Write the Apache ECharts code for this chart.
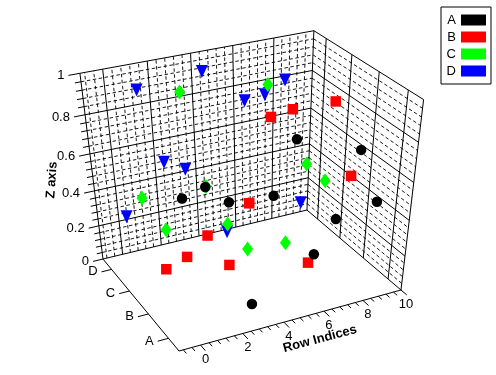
<!DOCTYPE html>
<html>
<head>
<meta charset="utf-8">
<style>
  html, body { margin: 0; padding: 0; background: #fff; }
  #chart { width: 496px; height: 375px; }
</style>
<script src="https://cdn.jsdelivr.net/npm/echarts@6/dist/echarts.min.js"></script>
</head>
<body>
<div id="chart"></div>
<script>
// values, one z per row index
const rowIndices = [0, 1, 2, 3, 4, 5, 6, 7, 8, 9];
const categories = ["A", "B", "C", "D"];
const valuesA = [0.72, 0.75, 0.65, 0.07, 0.63, 0.88, 0.265, 0.43, 0.76, 0.47];
const valuesB = [0.23, 0.27, 0.36, 0.165, 0.48, 0.89, 0.905, 0.06, 0.9, 0.5];
const valuesC = [0.5, 0.3, 0.98, 0.485, 0.25, 0.075, 0.935, 0.056, 0.484, 0.367];
const valuesD = [0.284, 0.923, 0.535, 0.473, 0.952, 0.059, 0.768, 0.778, 0.832, 0.128];
const rowTickLabels = [0, 2, 4, 6, 8, 10];
const zTickLabels = [0, 0.2, 0.4, 0.6, 0.8, 1];

const ROW_MIN = -1;
const ROW_MAX = 10;
const ROW_STEP = 0.4;
const Z_STEP = 0.04;

// perspective view of the unit box, fitted to the box corners
function project(row, cat, z) {
  const x = (row - ROW_MIN) / (ROW_MAX - ROW_MIN);
  const y = cat / categories.length;
  const d = 1 + 0.0748 * x + 0.1227 * y - 0.146 * z;
  return [
    (178 + 251.9 * x - 63.5 * y - 37.4 * z) / d + 1,
    (351 - 39.3 * x - 60.2 * y - 219.2 * z) / d,
  ];
}

const SOLID = 0;
const DASHED = 1;
const CAT_MAX = categories.length;
const segments = [];
const labels = [];

function addSegment(a, b, kind) {
  segments.push([a[0], a[1], b[0], b[1], kind]);
}

// left and right walls: z lines
for (let i = 0; i <= 25; i++) {
  const z = i * Z_STEP;
  const kind = i % 5 === 0 ? SOLID : DASHED;
  const back = project(ROW_MAX, CAT_MAX, z);
  addSegment(project(ROW_MIN, CAT_MAX, z), back, kind);
  addSegment(back, project(ROW_MAX, 0, z), kind);
  // z axis tick
  const len = i % 5 === 0 ? 0.5 : 0.27;
  addSegment(project(ROW_MIN, CAT_MAX, z), project(ROW_MIN - len, CAT_MAX, z), SOLID);
}

// left wall: row lines, plus the ticks under the front edge
for (let i = 0; i <= 27; i++) {
  const row = ROW_MIN + 0.2 + i * ROW_STEP;
  const major = i % 5 === 2;
  addSegment(project(row, CAT_MAX, 0), project(row, CAT_MAX, 1), major ? SOLID : DASHED);
  addSegment(project(row, 0, 0), project(row, major ? -0.22 : -0.14, 0), SOLID);
}

// right wall: one line per category, and the category ticks
categories.forEach((name, i) => {
  addSegment(project(ROW_MAX, i + 0.5, 0), project(ROW_MAX, i + 0.5, 1), SOLID);
  const end = project(ROW_MIN - 0.5, i + 0.5, 0);
  addSegment(project(ROW_MIN, i + 0.5, 0), end, SOLID);
  labels.push({ x: end[0] - 4, y: end[1], text: name, align: "right" });
});

// box edges
addSegment(project(ROW_MIN, CAT_MAX, 0), project(ROW_MIN, CAT_MAX, 1), SOLID);
addSegment(project(ROW_MAX, 0, 0), project(ROW_MAX, 0, 1), SOLID);
addSegment(project(ROW_MIN, 0, 0), project(ROW_MAX, 0, 0), SOLID);
addSegment(project(ROW_MIN, 0, 0), project(ROW_MIN, CAT_MAX, 0), SOLID);

zTickLabels.forEach((z) => {
  const end = project(ROW_MIN - 0.5, CAT_MAX, z);
  labels.push({ x: end[0] - 4, y: end[1], text: String(z), align: "right" });
});
rowTickLabels.forEach((row) => {
  const tick = project(row, 0, 0);
  labels.push({ x: tick[0] + 5, y: tick[1] + 14, text: String(row), align: "center" });
});

function toPoints(values, catIndex) {
  return values.map((z, i) => project(rowIndices[i], catIndex + 0.5, z));
}

const chart = echarts.init(document.getElementById("chart"), null, { renderer: "canvas" });

const option = {
  animation: false,
  backgroundColor: "#fff",
  textStyle: { fontFamily: "Liberation Sans" },
  grid: { left: 0, right: 0, top: 0, bottom: 0 },
  xAxis: { type: "value", min: 0, max: 496, show: false },
  yAxis: { type: "value", min: 0, max: 375, inverse: true, show: false },
  legend: {
    left: 441,
    top: 7,
    orient: "vertical",
    align: "right",
    selectedMode: false,
    itemWidth: 25,
    itemHeight: 11,
    itemGap: 3,
    padding: [6, 5, 6, 5.6],
    borderColor: "#000",
    borderWidth: 1,
    textStyle: { fontSize: 13, lineHeight: 14, color: "#000", fontFamily: "Liberation Sans" },
    data: categories.map((name) => ({ name, icon: "rect" })),
  },
  graphic: [
    {
      type: "text",
      x: 320,
      y: 339,
      rotation: Math.PI / 12,
      style: { text: "Row Indices", fontSize: 13, fontWeight: "bold", fontFamily: "Liberation Sans", align: "center", verticalAlign: "middle", fill: "#000" },
    },
    {
      type: "text",
      x: 52,
      y: 180,
      rotation: (86 * Math.PI) / 180,
      style: { text: "Z axis", fontSize: 13, fontWeight: "bold", fontFamily: "Liberation Sans", align: "center", verticalAlign: "middle", fill: "#000" },
    },
  ],
  series: [
    {
      type: "custom",
      silent: true,
      z: 1,
      clip: false,
      encode: { x: 0, y: 1 },
      data: segments,
      renderItem: (params, api) => {
        const a = api.coord([api.value(0), api.value(1)]);
        const b = api.coord([api.value(2), api.value(3)]);
        const dashed = api.value(4) === DASHED;
        return {
          type: "line",
          shape: { x1: a[0], y1: a[1], x2: b[0], y2: b[1] },
          style: {
            stroke: "#000",
            lineWidth: dashed ? 0.9 : 1,
            lineDash: dashed ? [3.5, 2.5] : null,
            fill: null,
          },
        };
      },
    },
    {
      type: "custom",
      silent: true,
      z: 1,
      clip: false,
      encode: { x: 0, y: 1 },
      data: labels.map((l) => [l.x, l.y]),
      renderItem: (params, api) => {
        const l = labels[params.dataIndex];
        const p = api.coord([api.value(0), api.value(1)]);
        return {
          type: "text",
          x: p[0],
          y: p[1],
          style: { text: l.text, fontSize: 13, fontFamily: "Liberation Sans", fill: "#000", align: l.align, verticalAlign: "middle" },
        };
      },
    },
    // back to front, so the nearer category sits on top
    { name: "D", type: "scatter", z: 2, silent: true, symbol: "triangle", symbolRotate: 180, symbolSize: [12, 13], itemStyle: { color: "#0000ff", opacity: 1 }, data: toPoints(valuesD, 3) },
    { name: "C", type: "scatter", z: 2, silent: true, symbol: "diamond", symbolSize: [11, 15], itemStyle: { color: "#00ff00", opacity: 1 }, data: toPoints(valuesC, 2) },
    { name: "B", type: "scatter", z: 2, silent: true, symbol: "rect", symbolSize: 10.5, itemStyle: { color: "#ff0000", opacity: 1 }, data: toPoints(valuesB, 1) },
    { name: "A", type: "scatter", z: 2, silent: true, symbol: "circle", symbolSize: 10.5, itemStyle: { color: "#000", opacity: 1 }, data: toPoints(valuesA, 0) },
  ],
};

chart.setOption(option);
</script>
</body>
</html>
